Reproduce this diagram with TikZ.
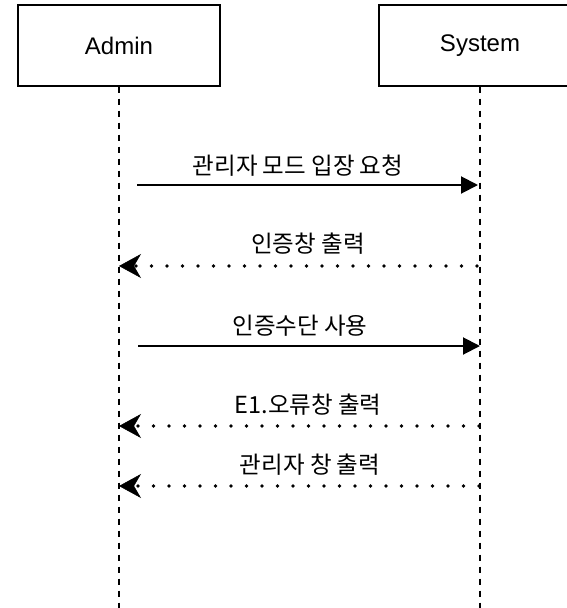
\documentclass[tikz,border=0pt]{standalone}
\usepackage{fontspec}
\setmainfont{Liberation Sans}
\newfontfamily\krfont{Noto Sans CJK KR}
\usetikzlibrary{arrows.meta}
\tikzset{
  actor/.style={draw=black, line width=1.3pt, minimum width=202pt, minimum height=81pt, inner sep=0pt, font=\fontsize{24}{28}\selectfont},
  lifeline/.style={draw=black, line width=1.3pt, dash pattern=on 6pt off 6pt},
  callmsg/.style={draw=black, line width=2pt, -{Triangle[length=17pt,width=17pt]}},
  replymsg/.style={draw=black, line width=3.8pt, line cap=round, dash pattern=on 0pt off 15.5pt, -{Stealth[length=22pt,width=24pt,inset=7pt,line width=0.5pt]}},
  msglabel/.style={inner sep=0pt, font=\krfont\fontsize{23.5}{27}\selectfont, text=black}
}
\begin{document}
\begin{tikzpicture}[x=1pt,y=1pt]
\useasboundingbox (0,0) rectangle (567,-608);
\clip (0,0) rectangle (567,-608);
% actors
\node[actor] (admin) at (119,-45.5) {Admin};
\node[actor] (system) at (480,-45.5) {System};
% lifeline ends
\coordinate (adminEnd) at (119,-612);
\coordinate (systemEnd) at (480,-612);
\draw[lifeline] (admin.south) -- (adminEnd);
\draw[lifeline] (system.south) -- (systemEnd);
% message anchor points
\coordinate (m1s) at (137,-185);
\coordinate (m1e) at (478,-185);
\coordinate (m2s) at (477,-266);
\coordinate (m2e) at (119,-266);
\coordinate (m3s) at (138,-346);
\coordinate (m3e) at (480,-346);
\coordinate (m4s) at (479,-426);
\coordinate (m4e) at (119,-426);
\coordinate (m5s) at (479,-486);
\coordinate (m5e) at (119,-486);
% messages
\draw[callmsg] (m1s) -- (m1e);
\node[msglabel] (l1) at (298,-166) {관리자 모드 입장 요청};
\draw[replymsg] (m2s) -- (m2e);
\node[msglabel] (l2) at (308,-244) {인증창 출력};
\draw[callmsg] (m3s) -- (m3e);
\node[msglabel] (l3) at (300,-326) {인증수단 사용};
\draw[replymsg] (m4s) -- (m4e);
\node[msglabel] (l4) at (308,-405) {E1.오류창 출력};
\draw[replymsg] (m5s) -- (m5e);
\node[msglabel] (l5) at (310,-465) {관리자 창 출력};
\end{tikzpicture}
\end{document}
